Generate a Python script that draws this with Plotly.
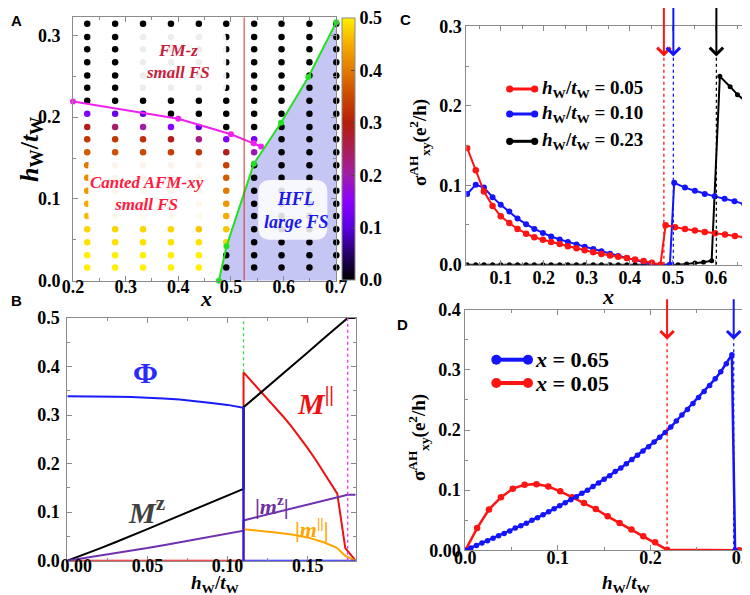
import plotly.graph_objects as go

W, H = 750, 595
SERIF = "Liberation Serif"
SANS = "Liberation Sans"

# ---------------- Panel A data ----------------
A_COL_X = [0.227, 0.280, 0.333, 0.386, 0.439, 0.491, 0.544, 0.596, 0.649, 0.700]
A_ROW_Y = [0.016, 0.031, 0.047, 0.063, 0.079, 0.094, 0.110, 0.126, 0.141, 0.157,
           0.173, 0.188, 0.204, 0.220, 0.236, 0.251, 0.267, 0.283, 0.298, 0.314]
A_VALUES = [
    [0.50, 0.50, 0.49, 0.48, 0.46, 0.45, 0.43, 0.42, 0.40, 0.37, 0.33, 0.29, 0.14, 0, 0, 0, 0, 0, 0, 0],
    [0.50, 0.50, 0.49, 0.48, 0.46, 0.45, 0.43, 0.41, 0.39, 0.36, 0.33, 0.24, 0.12, 0, 0, 0, 0, 0, 0, 0],
    [0.50, 0.50, 0.49, 0.48, 0.46, 0.44, 0.42, 0.40, 0.38, 0.35, 0.32, 0.20, 0.10, 0, 0, 0, 0, 0, 0, 0],
    [0.50, 0.50, 0.49, 0.48, 0.46, 0.44, 0.42, 0.40, 0.38, 0.34, 0.29, 0.15, 0, 0, 0, 0, 0, 0, 0, 0],
    [0.50, 0.50, 0.49, 0.47, 0.45, 0.43, 0.41, 0.39, 0.37, 0.33, 0.22, 0.10, 0, 0, 0, 0, 0, 0, 0, 0],
    [0, 0, 0.48, 0.47, 0.45, 0.43, 0.40, 0.37, 0.34, 0.29, 0.14, 0, 0, 0, 0, 0, 0, 0, 0, 0],
    [0, 0, 0, 0, 0, 0, 0, 0, 0, 0.19, 0.13, 0, 0, 0, 0, 0, 0, 0, 0, 0],
    [0, 0, 0, 0, 0, 0, 0, 0, 0, 0, 0, 0, 0, 0, 0, 0, 0, 0, 0, 0],
    [0, 0, 0, 0, 0, 0, 0, 0, 0, 0, 0, 0, 0, 0, 0, 0, 0, 0, 0, 0],
    [0, 0, 0, 0, 0, 0, 0, 0, 0, 0, 0, 0, 0, 0, 0, 0, 0, 0, 0, 0],
]
A_HFL_X = [0.477, 0.4915, 0.5435, 0.595, 0.647, 0.700]
A_HFL_Y = [0.000, 0.042, 0.143, 0.193, 0.249, 0.316]
A_FMZ_X = [0.200, 0.400, 0.500, 0.543, 0.557]
A_FMZ_Y = [0.219, 0.198, 0.179, 0.168, 0.164]
A_X_CROSS = 0.525
A_XTICKS = ["0.2", "0.3", "0.4", "0.5", "0.6", "0.7"]
A_YTICKS = ["0.0", "0.1", "0.2", "0.3"]
A_CBTICKS = ["0.0", "0.1", "0.2", "0.3", "0.4", "0.5"]

# ---------------- Panel B data ----------------
B_PHI_X = [0.00, 0.01, 0.02, 0.03, 0.04, 0.05, 0.06, 0.07, 0.08, 0.09, 0.10, 0.11, 0.11, 0.18]
B_PHI_Y = [0.339, 0.339, 0.338, 0.338, 0.337, 0.336, 0.334, 0.332, 0.329, 0.325, 0.321, 0.315, 0.0, 0.0]
B_MZ_X = [0.00, 0.01, 0.02, 0.03, 0.04, 0.05, 0.06, 0.07, 0.08, 0.09, 0.10, 0.11,
          0.11, 0.12, 0.13, 0.14, 0.15, 0.16, 0.17, 0.175, 0.18]
B_MZ_Y = [0.000, 0.012, 0.025, 0.038, 0.051, 0.065, 0.079, 0.093, 0.106, 0.120, 0.134, 0.148,
          0.316, 0.344, 0.373, 0.401, 0.429, 0.458, 0.486, 0.500, 0.500]
B_MPAR_X = [0.00, 0.11, 0.11, 0.115, 0.12, 0.125, 0.13, 0.135, 0.14, 0.145, 0.15, 0.155,
            0.16, 0.165, 0.1685, 0.1735, 0.18]
B_MPAR_Y = [0.0, 0.0, 0.388, 0.370, 0.350, 0.333, 0.315, 0.296, 0.276, 0.255, 0.232, 0.208,
            0.183, 0.157, 0.138, 0.026, 0.0]
B_SMZ_X = [0.00, 0.01, 0.02, 0.03, 0.04, 0.05, 0.06, 0.07, 0.08, 0.09, 0.10, 0.11,
           0.11, 0.175, 0.18]
B_SMZ_Y = [0.000, 0.005, 0.010, 0.015, 0.021, 0.026, 0.032, 0.038, 0.044, 0.050, 0.056, 0.062,
           0.083, 0.136, 0.136]
B_SMPAR_X = [0.11, 0.12, 0.13, 0.14, 0.15, 0.16, 0.168, 0.1735, 0.18]
B_SMPAR_Y = [0.065, 0.062, 0.058, 0.054, 0.048, 0.038, 0.027, 0.010, 0.0]
B_H1 = 0.11
B_H2 = 0.175
B_XTICKS = ["\u00a0\u00a0\u00a0\u00a00.00", "0.05", "0.10", "0.15"]
B_YTICKS = ["0.0", "0.1", "0.2", "0.3", "0.4", "0.5"]

# ---------------- Panel C data ----------------
C_X_LEFT = [0.022, 0.042, 0.061, 0.081, 0.100, 0.120, 0.139, 0.159, 0.178, 0.198, 0.217, 0.237,
            0.256, 0.276, 0.295, 0.315, 0.334, 0.354, 0.373, 0.393, 0.412, 0.432, 0.451, 0.471]
C_RED_X = C_X_LEFT + [0.483, 0.505, 0.528, 0.551, 0.574, 0.598, 0.621, 0.644, 0.667, 0.690]
C_RED_Y = [0.147, 0.119, 0.092, 0.074, 0.061, 0.0525, 0.045, 0.039, 0.0345, 0.0315, 0.0287, 0.026,
           0.0233, 0.0207, 0.0182, 0.0157, 0.0135, 0.0117, 0.0100, 0.0084, 0.0066, 0.0045, 0.0025, 0.0,
           0.0496, 0.047, 0.045, 0.043, 0.041, 0.0395, 0.038, 0.036, 0.0345, 0.033]
C_BLUE_X = C_X_LEFT + [0.493, 0.503, 0.528, 0.551, 0.574, 0.597, 0.620, 0.643, 0.666, 0.690]
C_BLUE_Y = [0.089, 0.1007, 0.097, 0.085, 0.0755, 0.067, 0.058, 0.051, 0.045, 0.040, 0.0355, 0.0318,
            0.0285, 0.0255, 0.0227, 0.0197, 0.0168, 0.0139, 0.011, 0.0084, 0.0059, 0.0034, 0.0013, 0.0,
            0.0, 0.103, 0.097, 0.093, 0.089, 0.086, 0.083, 0.080, 0.076, 0.072]
C_BLACK_X = C_X_LEFT + [0.493, 0.512, 0.532, 0.551, 0.571, 0.590, 0.609, 0.633, 0.650, 0.670, 0.690]
C_BLACK_Y = [0.0, 0.0, 0.0, 0.0, 0.0, 0.0, 0.0, 0.0, 0.0, 0.0, 0.0, 0.0,
             0.0, 0.0, 0.0, 0.0, 0.0, 0.0, 0.0, 0.0, 0.0, 0.0, 0.0, 0.0,
             0.0, 0.0, 0.001, 0.002, 0.003, 0.005, 0.237, 0.224, 0.214, 0.205, 0.197]
C_LABELS = ["0.05", "0.10", "0.23"]
C_TRANSITIONS = [0.479, 0.501, 0.601]
C_XTICKS = ["0.1", "0.2", "0.3", "0.4", "0.5", "0.6"]
C_YTICKS = ["0.0", "0.1", "0.2", "0.3"]

# ---------------- Panel D data ----------------
D_BLUE_X = [0.000, 0.006, 0.012, 0.018, 0.024, 0.030, 0.036, 0.042, 0.048, 0.054, 0.060, 0.066,
            0.072, 0.078, 0.084, 0.090, 0.096, 0.102, 0.108, 0.114, 0.120, 0.126, 0.132, 0.138,
            0.144, 0.150, 0.156, 0.162, 0.168, 0.174, 0.180, 0.186, 0.192, 0.198, 0.204, 0.210,
            0.216, 0.222, 0.228, 0.234, 0.240, 0.246, 0.252, 0.258, 0.264, 0.270, 0.276, 0.282,
            0.288, 0.2915]
D_BLUE_Y = [0.000, 0.004, 0.008, 0.012, 0.016, 0.020, 0.024, 0.028, 0.032, 0.037, 0.041, 0.045,
            0.050, 0.054, 0.059, 0.064, 0.069, 0.074, 0.079, 0.084, 0.089, 0.095, 0.100, 0.106,
            0.112, 0.118, 0.124, 0.131, 0.137, 0.144, 0.151, 0.158, 0.165, 0.172, 0.180, 0.188,
            0.196, 0.205, 0.215, 0.225, 0.234, 0.244, 0.254, 0.264, 0.274, 0.285, 0.297, 0.310,
            0.325, 0.000]
D_RED_X = [0.0000, 0.0128, 0.0256, 0.0385, 0.0513, 0.0641, 0.0769, 0.0897, 0.1026, 0.1154,
           0.1282, 0.1410, 0.1538, 0.1667, 0.1795, 0.1923, 0.2051, 0.2179, 0.2960, 0.3150]
D_RED_Y = [0.000, 0.037, 0.068, 0.088, 0.1025, 0.109, 0.110, 0.106, 0.098, 0.088,
           0.0787, 0.0687, 0.0565, 0.0455, 0.0345, 0.0235, 0.0133, 0.001, 0.0, 0.0]
D_LABELS = ["0.65", "0.05"]
D_TRANSITIONS = [0.218, 0.290]
D_XTICKS = ["0.0", "0.1", "0.2", "0.3"]
D_YTICKS = ["0.00", "0.1", "0.2", "0.3", "0.4"]

RED = "#ff1414"
BLUE = "#1414ff"


def px(x):
    return x / W


def py(y):
    return 1 - y / H


def bold(labels):
    return [f"<b>{t}</b>" for t in labels]


AXIS_GRAY = "#8a8a8a"
TICK_SIZE = 18


def axis(dom, rng, tickvals, ticktext, minor_dtick, anchor, standoff):
    return dict(domain=dom, range=rng, anchor=anchor, showline=True, linecolor=AXIS_GRAY,
                linewidth=1, mirror="ticks", ticks="inside", ticklen=5, tickcolor=AXIS_GRAY,
                tickmode="array", tickvals=tickvals, ticktext=bold(ticktext),
                tickfont=dict(family=SERIF, size=TICK_SIZE, color="black"), showgrid=False,
                zeroline=False, ticklabelstandoff=standoff, automargin=False,
                minor=dict(ticks="inside", ticklen=3, dtick=minor_dtick, tick0=0,
                           tickcolor=AXIS_GRAY, showgrid=False))


fig = go.Figure()

# ---------------- Panel A ----------------
fig.add_trace(go.Scatter(x=A_HFL_X + [A_HFL_X[-1]], y=A_HFL_Y + [0.0], fill="toself",
                         fillcolor="rgb(198,198,245)", mode="none", xaxis="x", yaxis="y",
                         hoverinfo="skip"))
dot_x, dot_y, dot_c = [], [], []
for cx, col in zip(A_COL_X, A_VALUES):
    for ry, v in zip(A_ROW_Y, col):
        dot_x.append(cx)
        dot_y.append(ry)
        dot_c.append(v)
A_SCALE = [[0.0, "rgb(0,0,0)"], [0.1, "rgb(40,0,105)"], [0.2, "rgb(90,0,225)"],
           [0.3, "rgb(140,0,255)"], [0.4, "rgb(160,30,170)"], [0.5, "rgb(170,30,85)"],
           [0.6, "rgb(180,30,10)"], [0.7, "rgb(202,72,0)"], [0.8, "rgb(226,122,0)"],
           [0.9, "rgb(245,172,0)"], [1.0, "rgb(255,240,0)"]]
fig.add_trace(go.Scatter(
    x=dot_x, y=dot_y, mode="markers", xaxis="x", yaxis="y", cliponaxis=False,
    marker=dict(size=6.5, color=dot_c, colorscale=A_SCALE, cmin=0, cmax=0.5,
                line=dict(width=0),
                colorbar=dict(x=px(334.3), xanchor="left", y=py(10), yanchor="top",
                              len=262 / H, lenmode="fraction", thickness=13.4,
                              thicknessmode="pixels", xpad=0, ypad=0, outlinewidth=1,
                              outlinecolor=AXIS_GRAY, tickmode="array",
                              tickvals=[0, 0.1, 0.2, 0.3, 0.4, 0.5],
                              ticktext=bold(A_CBTICKS),
                              ticks="inside", ticklen=4, tickcolor="#444",
                              tickfont=dict(family=SERIF, size=TICK_SIZE, color="black"))),
    hoverinfo="skip"))
fig.add_trace(go.Scatter(x=A_FMZ_X, y=A_FMZ_Y, mode="lines+markers", xaxis="x", yaxis="y",
                         line=dict(color="#f020f0", width=2), marker=dict(size=6, color="#f020f0"),
                         cliponaxis=False))
fig.add_trace(go.Scatter(x=A_HFL_X, y=A_HFL_Y, mode="lines+markers", xaxis="x", yaxis="y",
                         line=dict(color="#22e022", width=2), marker=dict(size=6, color="#22e022"),
                         cliponaxis=False))

# ---------------- Panel B ----------------
fig.add_trace(go.Scatter(x=B_MPAR_X, y=B_MPAR_Y, mode="lines", xaxis="x2", yaxis="y2",
                         line=dict(color="#ee1111", width=2)))
fig.add_trace(go.Scatter(x=B_MZ_X, y=B_MZ_Y, mode="lines", xaxis="x2", yaxis="y2",
                         line=dict(color="black", width=2)))
fig.add_trace(go.Scatter(x=B_SMZ_X, y=B_SMZ_Y, mode="lines", xaxis="x2", yaxis="y2",
                         line=dict(color="#7030b0", width=2)))
fig.add_trace(go.Scatter(x=B_SMPAR_X, y=B_SMPAR_Y, mode="lines", xaxis="x2", yaxis="y2",
                         line=dict(color="#ffa500", width=2)))
fig.add_trace(go.Scatter(x=B_PHI_X, y=B_PHI_Y, mode="lines", xaxis="x2", yaxis="y2",
                         line=dict(color="#1a1aff", width=2)))

# ---------------- Panel C ----------------
fig.add_trace(go.Scatter(x=C_BLACK_X, y=C_BLACK_Y, mode="lines+markers", xaxis="x3", yaxis="y3",
                         line=dict(color="black", width=2), marker=dict(size=5, color="black")))
fig.add_trace(go.Scatter(x=C_BLUE_X, y=C_BLUE_Y, mode="lines+markers", xaxis="x3", yaxis="y3",
                         line=dict(color=BLUE, width=2), marker=dict(size=6, color=BLUE)))
fig.add_trace(go.Scatter(x=C_RED_X, y=C_RED_Y, mode="lines+markers", xaxis="x3", yaxis="y3",
                         line=dict(color=RED, width=2), marker=dict(size=6.5, color=RED)))

# ---------------- Panel D ----------------
fig.add_trace(go.Scatter(x=D_RED_X, y=D_RED_Y, mode="lines+markers", xaxis="x4", yaxis="y4",
                         line=dict(color=RED, width=2.5), marker=dict(size=6.5, color=RED)))
fig.add_trace(go.Scatter(x=D_BLUE_X, y=D_BLUE_Y, mode="lines+markers", xaxis="x4", yaxis="y4",
                         line=dict(color=BLUE, width=2.5), marker=dict(size=5.5, color=BLUE)))

shapes = []


def rrect(x0, x1, y0, y1, rx, ry):
    return (f"M{x0 + rx},{y0} L{x1 - rx},{y0} Q{x1},{y0} {x1},{y0 + ry} L{x1},{y1 - ry} "
            f"Q{x1},{y1} {x1 - rx},{y1} L{x0 + rx},{y1} Q{x0},{y1} {x0},{y1 - ry} "
            f"L{x0},{y0 + ry} Q{x0},{y0} {x0 + rx},{y0} Z")


shapes.append(dict(type="line", xref="x", yref="y", x0=A_X_CROSS, x1=A_X_CROSS, y0=0, y1=0.322,
                   line=dict(color="#d03030", width=1), layer="above"))
shapes.append(dict(type="path", xref="x", yref="y", path=rrect(0.310, 0.491, 0.229, 0.306, 0.015, 0.010),
                   fillcolor="rgba(255,255,255,0.93)", line=dict(width=0), layer="above"))
shapes.append(dict(type="path", xref="x", yref="y", path=rrect(0.229, 0.462, 0.070, 0.150, 0.015, 0.010),
                   fillcolor="rgba(255,255,255,0.92)", line=dict(width=0), layer="above"))
shapes.append(dict(type="path", xref="x", yref="y", path=rrect(0.552, 0.683, 0.050, 0.123, 0.023, 0.015),
                   fillcolor="rgba(255,255,255,0.85)", line=dict(width=0), layer="above"))

shapes.append(dict(type="line", xref="x2", yref="y2", x0=B_H1, x1=B_H1, y0=0.388, y1=0.5,
                   line=dict(color="#33dd33", width=1.3, dash="dot")))
shapes.append(dict(type="line", xref="x2", yref="y2", x0=B_H2, x1=B_H2, y0=0.0, y1=0.5,
                   line=dict(color="#ee33ee", width=1.3, dash="dot")))

C_COLORS = [RED, BLUE, "black"]
for xt, c in zip(C_TRANSITIONS, C_COLORS):
    shapes.append(dict(type="line", xref="x3", yref="y3", x0=xt, x1=xt, y0=0.0, y1=0.262,
                       line=dict(color=c, width=1.3, dash="dot")))
D_COLORS = [RED, BLUE]
for xt, c in zip(D_TRANSITIONS, D_COLORS):
    shapes.append(dict(type="line", xref="x4", yref="y4", x0=xt, x1=xt, y0=0.0, y1=0.350,
                       line=dict(color=c, width=1.3, dash="dot")))


def legend_sample(x0p, x1p, yp, color, lw, r):
    out = [dict(type="line", xref="paper", yref="paper", x0=px(x0p), x1=px(x1p), y0=py(yp), y1=py(yp),
                line=dict(color=color, width=lw))]
    for xx in (x0p, x1p):
        out.append(dict(type="circle", xref="paper", yref="paper", xsizemode="pixel", ysizemode="pixel",
                        xanchor=px(xx), yanchor=py(yp), x0=-r, x1=r, y0=-r, y1=r,
                        fillcolor=color, line=dict(width=0)))
    return out


C_LEG_Y = [81, 106, 133.3]
for yy, c in zip(C_LEG_Y, C_COLORS):
    shapes += legend_sample(501.7, 526.7, yy, c, 3, 3.6)
D_LEG_Y = [351.7, 375]
for yy, c in zip(D_LEG_Y, [BLUE, RED]):
    shapes += legend_sample(488.3, 520, yy, c, 4, 5)

ann = []


def note(text, x, y, size, color="black", angle=0, family=SERIF, xanchor="center"):
    ann.append(dict(text=text, x=px(x), y=py(y), xref="paper", yref="paper", showarrow=False,
                    xanchor=xanchor, yanchor="middle", textangle=angle,
                    font=dict(family=family, size=size, color=color)))


for lab, (x, y) in zip("ABCD", [(8, 12), (8, 292), (397, 11), (395, 316)]):
    note(f"<b>{lab}</b>", x, y, 15, family=SANS)

HW = "<b><i>h</i><sub>W</sub>/<i>t</i><sub>W</sub></b>"
SIG = "<b>σ<sup>AH</sup><sub>xy</sub>(e<sup>2</sup>/h)</b>"
note("<b><i>x</i></b>", 198, 290, 22)
note(HW, 23, 142, 26, angle=-90)
note(HW, 207, 576, 19)
note("<b><i>x</i></b>", 600, 288, 22)
note(SIG, 412, 135, 19, angle=-90)
note(HW, 618, 576, 19)
note(SIG, 410, 430, 19, angle=-90)

note("<b><i>FM-z<br>small FS</i></b>", 170, 53, 17, color="#c8203c")
note("<b><i>Canted AFM-xy<br>small FS</i></b>", 139, 185, 17, color="#ff1a40")
note("<b><i>HFL<br>large FS</i></b>", 288, 202, 18, color="#1a1aee")

note("<b>Φ</b>", 137, 364, 30, color="#2a2aff")
note("<b><i>M</i><sup>z</sup></b>", 138, 502, 30, color="#404040")
note("<b><i>M</i><sup>||</sup></b>", 307, 393, 30, color="#ee1111")
note("<b>|<i>m</i><sup>z</sup>|</b>", 264, 497, 22, color="#7030a0")
note("<b>|<i>m</i><sup>||</sup>|</b>", 304, 520, 22, color="#ffa500")

for yy, lab in zip(C_LEG_Y, C_LABELS):
    note(f"<b><i>h</i><sub>W</sub>/<i>t</i><sub>W</sub> = {lab}</b>", 531.7, yy, 19, xanchor="left")
for yy, lab in zip(D_LEG_Y, D_LABELS):
    note(f"<b><i>x</i> = {lab}</b>", 525, yy, 22, xanchor="left")

for xt, c in zip(C_TRANSITIONS, C_COLORS):
    ann.append(dict(x=xt, y=0.262, ax=xt, ay=0.325, xref="x3", yref="y3", axref="x3", ayref="y3",
                    showarrow=True, arrowhead=4, arrowsize=1.3, arrowwidth=2, arrowcolor=c, text=""))
for xt, c in zip(D_TRANSITIONS, D_COLORS):
    ann.append(dict(x=xt, y=0.350, ax=xt, ay=0.42, xref="x4", yref="y4", axref="x4", ayref="y4",
                    showarrow=True, arrowhead=4, arrowsize=1.3, arrowwidth=2, arrowcolor=c, text=""))

fig.update_layout(
    template="none",
    width=W, height=H, autosize=False, margin=dict(l=0, r=0, t=0, b=0, autoexpand=False),
    font=dict(family=SERIF, size=16, color="black"),
    paper_bgcolor="white", plot_bgcolor="white", showlegend=False,
    xaxis=axis([px(65), px(328.3)], [0.2, 0.7], [0.2, 0.3, 0.4, 0.5, 0.6, 0.7], A_XTICKS, 0.05, "y", -10),
    yaxis=axis([py(272.7), py(9.3)], [0, 0.322], [0, 0.1, 0.2, 0.3], A_YTICKS, 0.05, "x", 8),
    xaxis2=axis([px(59.3), px(347.7)], [0, 0.18], [0, 0.05, 0.10, 0.15], B_XTICKS, 0.025, "y2", -11),
    yaxis2=axis([py(552.7), py(310)], [0, 0.5], [0, 0.1, 0.2, 0.3, 0.4, 0.5], B_YTICKS, 0.05, "x2", 3),
    xaxis3=axis([px(458.3), px(746.7)], [0.02, 0.69], [0.1, 0.2, 0.3, 0.4, 0.5, 0.6], C_XTICKS, 0.05, "y3", -3),
    yaxis3=axis([py(256.7), py(18.3)], [0, 0.3], [0, 0.1, 0.2, 0.3], C_YTICKS, 0.05, "x3", 0),
    xaxis4=axis([px(457.3), px(743.3)], [0, 0.309], [0, 0.1, 0.2, 0.3], D_XTICKS, 0.05, "y4", -9),
    yaxis4=axis([py(542.3), py(301.7)], [0, 0.4], [0, 0.1, 0.2, 0.3, 0.4], D_YTICKS, 0.05, "x4", 0),
    shapes=shapes, annotations=ann,
)

fig.write_html("out.html")
